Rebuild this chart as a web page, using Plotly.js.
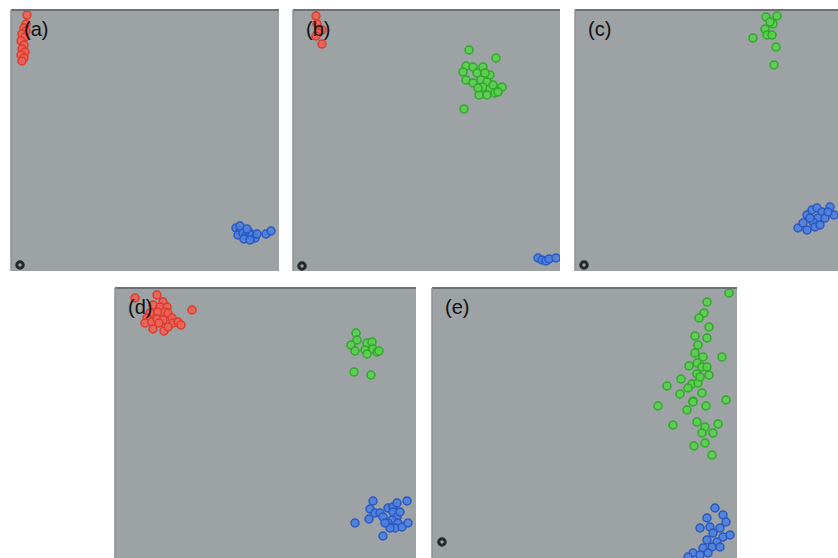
<!DOCTYPE html>
<html>
<head>
<meta charset="utf-8">
<script src="https://cdn.plot.ly/plotly-3.0.1.min.js"></script>
<style>
  html, body { margin: 0; padding: 0; background: #ffffff; }
  #chart { width: 838px; height: 558px; }
</style>
</head>
<body>
<div id="chart"></div>
<script>
// Embedding snapshots (a)-(e): three classes plus the reference point.
const panelLabels = ["(a)", "(b)", "(c)", "(d)", "(e)"];

// (a)
const redAx = [16, 15, 13, 15, 11, 14, 10, 13, 11, 14, 10, 13, 11];
const redAy = [256, 247, 243, 240, 237, 234, 230, 226, 222, 219, 216, 213, 210];
const greenAx = [];
const greenAy = [];
const blueAx = [225, 229, 227, 232, 235, 238, 241, 244, 233, 239, 229, 236, 246, 255, 260];
const blueAy = [43, 40, 36, 38, 35, 39, 36, 33, 32, 31, 45, 42, 37, 37, 40];
const originAx = [9];
const originAy = [6];

// (b)
const redBx = [23, 24, 29, 25, 23, 29];
const redBy = [255, 247, 241, 238, 235, 227];
const greenBx = [176, 203, 173, 170, 180, 190, 184, 173, 180, 188, 197, 194, 190, 197, 186, 194, 202, 209, 205, 171, 185, 192, 200];
const greenBy = [221, 213, 205, 199, 204, 204, 198, 191, 188, 191, 196, 189, 184, 182, 176, 176, 178, 184, 179, 162, 183, 198, 186];
const blueBx = [245, 249, 253, 256, 263];
const blueBy = [13, 11, 10, 12, 13];
const originBx = [9];
const originBy = [5];

// (c)
const redCx = [];
const redCy = [];
const greenCx = [191, 202, 198, 195, 190, 192, 197, 178, 201, 199];
const greenCy = [254, 255, 247, 249, 242, 236, 236, 233, 224, 206];
const blueCx = [223, 232, 228, 232, 237, 242, 247, 243, 250, 238, 235, 255, 259, 253, 240, 245];
const blueCy = [43, 41, 48, 56, 61, 63, 59, 53, 53, 49, 53, 64, 56, 59, 44, 46];
const originCx = [9];
const originCy = [6];

// (d)
const redDx = [42, 20, 48, 38, 45, 52, 77, 35, 43, 50, 53, 32, 30, 37, 42, 48, 57, 58, 63, 66, 38, 49, 44, 53];
const redDy = [263, 260, 256, 253, 251, 251, 248, 245, 246, 246, 245, 240, 235, 236, 239, 238, 240, 235, 236, 233, 229, 227, 235, 231];
const greenDx = [241, 242, 236, 240, 252, 257, 250, 252, 258, 262, 264, 239, 256];
const greenDy = [225, 218, 213, 207, 215, 216, 208, 204, 209, 206, 207, 186, 183];
const blueDx = [240, 254, 258, 255, 260, 265, 268, 273, 278, 282, 292, 278, 282, 277, 273, 283, 280, 275, 287, 293, 268, 270, 285];
const blueDy = [35, 39, 57, 49, 45, 45, 41, 50, 51, 55, 57, 46, 41, 38, 35, 35, 30, 30, 31, 35, 22, 35, 46];
const originDx = [];
const originDy = [];

// (e)
const redEx = [];
const redEy = [];
const greenEx = [297, 275, 272, 267, 277, 263, 275, 266, 263, 271, 290, 257, 265, 270, 275, 265, 277, 249, 235, 260, 256, 266, 270, 248, 261, 226, 274, 294, 255, 241, 265, 273, 286, 270, 281, 262, 273, 280, 261, 268];
const greenEy = [265, 256, 245, 240, 231, 222, 220, 213, 205, 201, 201, 192, 195, 191, 191, 184, 183, 179, 172, 174, 170, 175, 165, 164, 157, 152, 152, 158, 148, 133, 136, 131, 134, 125, 125, 112, 115, 103, 156, 181];
const blueEx = [283, 275, 291, 294, 268, 278, 288, 281, 291, 298, 275, 285, 271, 280, 288, 261, 268, 276, 256];
const blueEy = [50, 40, 43, 36, 30, 31, 30, 25, 21, 23, 18, 16, 10, 11, 11, 5, 3, 5, 1];
const originEx = [10];
const originEy = [16];

const panelData = [
  { red: [redAx, redAy], green: [greenAx, greenAy], blue: [blueAx, blueAy], origin: [originAx, originAy] },
  { red: [redBx, redBy], green: [greenBx, greenBy], blue: [blueBx, blueBy], origin: [originBx, originBy] },
  { red: [redCx, redCy], green: [greenCx, greenCy], blue: [blueCx, blueCy], origin: [originCx, originCy] },
  { red: [redDx, redDy], green: [greenDx, greenDy], blue: [blueDx, blueDy], origin: [originDx, originDy] },
  { red: [redEx, redEy], green: [greenEx, greenEy], blue: [blueEx, blueEy], origin: [originEx, originEy] }
];

// Page geometry of each panel, in pixels: [left, top, right, bottom]
const W = 838, H = 558;
const boxes = [
  [11, 10, 279, 271],
  [293, 10, 560, 271],
  [575, 10, 838, 271],
  [115, 288, 416, 558],
  [432, 288, 737, 558]
];

const classStyle = {
  red:   { fill: "rgba(238, 96, 84, 0.9)",  line: "#dc3b2f" },
  green: { fill: "rgba(88, 208, 78, 0.9)",  line: "#31a829" },
  blue:  { fill: "rgba(76, 128, 224, 0.9)", line: "#2a58c2" }
};

const traces = [];
const layout = {
  width: W, height: H,
  margin: { l: 0, r: 0, t: 0, b: 0 },
  paper_bgcolor: "#ffffff",
  plot_bgcolor: "#9da2a4",
  showlegend: false,
  shapes: [],
  annotations: []
};

boxes.forEach((b, i) => {
  const n = i + 1;
  const xa = n === 1 ? "x" : "x" + n;
  const ya = n === 1 ? "y" : "y" + n;
  const pw = b[2] - b[0], ph = b[3] - b[1];
  const axisBase = { showgrid: false, zeroline: false, showticklabels: false, ticks: "", showline: false, fixedrange: true };
  layout[n === 1 ? "xaxis" : "xaxis" + n] = Object.assign({}, axisBase, {
    domain: [b[0] / W, b[2] / W], range: [0, pw], anchor: ya
  });
  layout[n === 1 ? "yaxis" : "yaxis" + n] = Object.assign({}, axisBase, {
    domain: [(H - b[3]) / H, (H - b[1]) / H], range: [0, ph], anchor: xa
  });

  const d = panelData[i];
  ["red", "green", "blue"].forEach(c => {
    if (!d[c][0].length) return;
    traces.push({
      type: "scatter", mode: "markers", xaxis: xa, yaxis: ya,
      x: d[c][0], y: d[c][1], hoverinfo: "skip",
      marker: { size: 8, color: classStyle[c].fill, line: { color: classStyle[c].line, width: 1.5 } }
    });
  });
  if (d.origin[0].length) {
    traces.push({
      type: "scatter", mode: "markers", xaxis: xa, yaxis: ya,
      x: d.origin[0], y: d.origin[1], hoverinfo: "skip",
      marker: { symbol: "circle-open", size: 6.5, color: "#26292a", line: { width: 3 } }
    });
  }

  // darker top and left frame edges of each panel
  layout.shapes.push({
    type: "line", xref: "paper", yref: "paper",
    x0: b[0] / W, x1: b[2] / W, y0: (H - b[1]) / H, y1: (H - b[1]) / H,
    line: { color: "#6c7072", width: 2 }
  });
  layout.shapes.push({
    type: "line", xref: "paper", yref: "paper",
    x0: b[0] / W, x1: b[0] / W, y0: (H - b[3]) / H, y1: (H - b[1]) / H,
    line: { color: "#8d9294", width: 1.5 }
  });

  layout.annotations.push({
    text: panelLabels[i], xref: "paper", yref: "paper",
    x: (b[0] + 11) / W, y: (H - b[1] - 19) / H,
    xanchor: "left", yanchor: "middle", showarrow: false,
    font: { family: "Liberation Sans, Arial, sans-serif", size: 20, color: "#111111" }
  });
});

Plotly.newPlot("chart", traces, layout, { staticPlot: true, displayModeBar: false });
</script>
</body>
</html>
